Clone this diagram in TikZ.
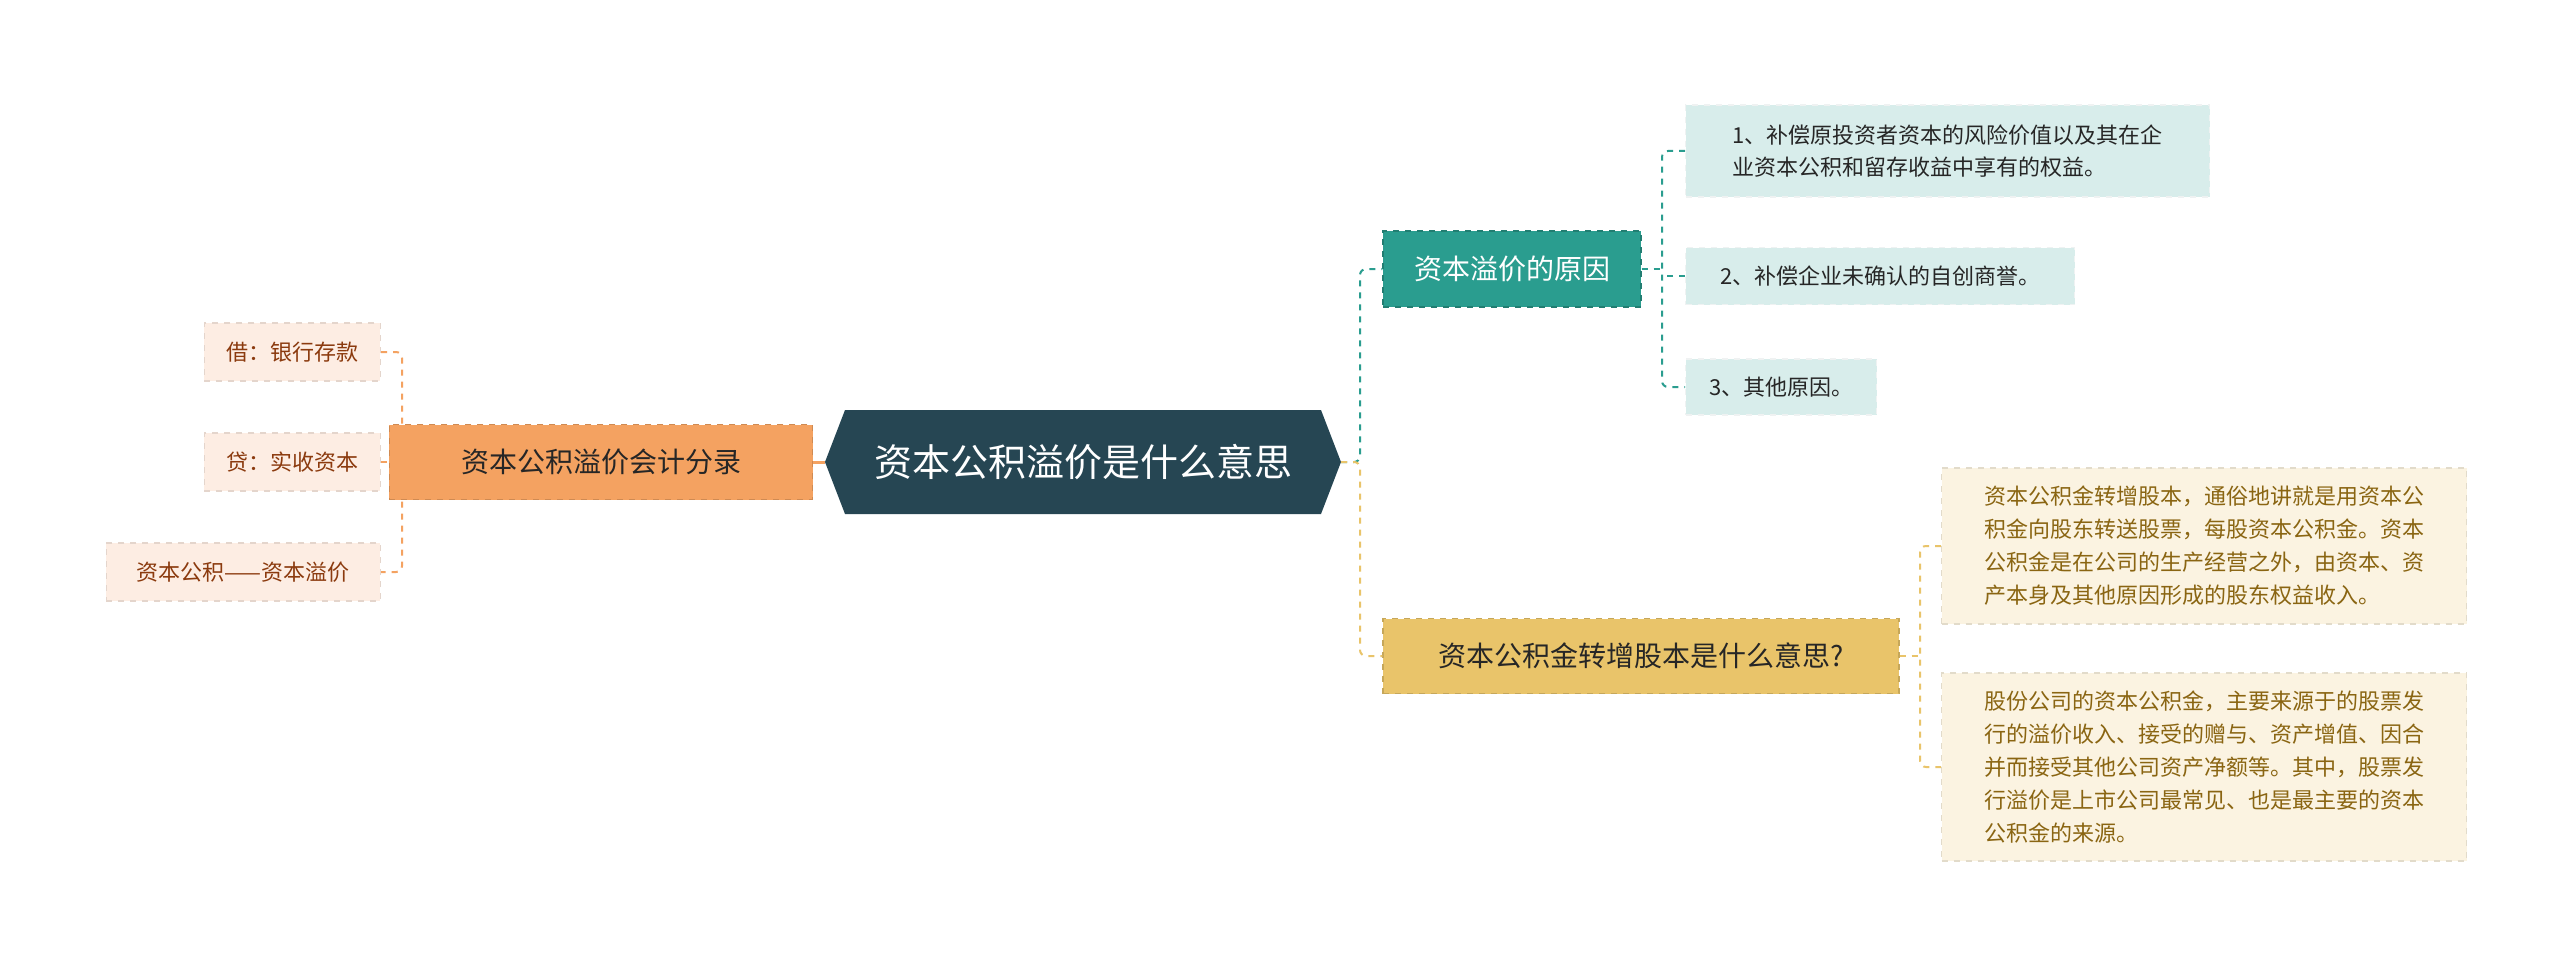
\documentclass[tikz,border=0pt]{standalone}
\usepackage{fontspec}
\setmainfont{Noto Sans CJK SC}
\usetikzlibrary{calc}
\definecolor{cdark}{HTML}{264653}
\definecolor{cteal}{HTML}{2A9D8F}
\definecolor{corange}{HTML}{F4A261}
\definecolor{cyellow}{HTML}{E9C46A}
\definecolor{lteal}{HTML}{D8EDEB}
\definecolor{lorange}{HTML}{FDEDE3}
\definecolor{lyellow}{HTML}{FBF3E1}
\definecolor{torange}{HTML}{8B3A0E}
\definecolor{tyellow}{HTML}{8A6512}
\begin{document}
\begin{tikzpicture}[x=0.5pt,y=-0.5pt,
  box/.style={inner sep=0pt,draw,dashed,line width=0.6pt},
  leafteal/.style={box,fill=lteal,draw=lteal!80!black!20!white,text=black!85,font=\fontsize{11}{16}\selectfont,align=left,anchor=west},
  leaforange/.style={box,fill=lorange,draw=lorange!90!black,text=torange,font=\fontsize{11}{16}\selectfont,anchor=east},
  leafyellow/.style={box,fill=lyellow,draw=lyellow!90!black,text=tyellow,font=\fontsize{11}{16.5}\selectfont,align=left,anchor=west},
  conn/.style={dashed,line width=1pt,rounded corners=3pt}]
\useasboundingbox (0,0) rectangle (2560,963);
\fill[white] (0,0) rectangle (2560,963);
% central
\fill[cdark] (825,462) -- (845,410) -- (1321,410) -- (1341,462) -- (1321,514) -- (845,514) -- cycle;
\node[text=white,font=\fontsize{19}{22}\selectfont] (c) at (1083,462) {资本公积溢价是什么意思};
\coordinate (cl) at (825,462);
\coordinate (cr) at (1341,462);
% left branch
\node[box,fill=corange,draw=corange!85!black,minimum width=353\pgflinewidth,text width=353*0.5pt,minimum height=37.5pt,align=center,font=\fontsize{14}{17}\selectfont,text=black!85] (o) at (601,462) {资本公积溢价会计分录};
\node[leaforange,minimum width=88pt,minimum height=29pt,align=center] (l1) at (381,352) {借：银行存款};
\node[leaforange,minimum width=88pt,minimum height=29pt,align=center] (l2) at (381,462) {贷：实收资本};
\node[leaforange,minimum width=137pt,minimum height=29pt,align=center] (l3) at (381,572) {资本公积——资本溢价};
\draw[corange,line width=1.5pt] (cl) -- (o.east);
\draw[conn,corange] (o.west) -- (402,462);
\draw[conn,corange] (l1.east) -| (402,462) |- (l3.east);
\draw[conn,corange] (l2.east) -- (402,462);
% teal branch
\node[box,fill=cteal,draw=cteal!80!black,minimum width=129pt,minimum height=38pt,text=white,font=\fontsize{14}{17}\selectfont] (t) at (1512,269) {资本溢价的原因};
\node[leafteal,minimum width=262pt,minimum height=46pt,inner xsep=7pt] (t1) at (1685,151) {1、补偿原投资者资本的风险价值以及其在企\\业资本公积和留存收益中享有的权益。};
\node[leafteal,minimum width=194.5pt,minimum height=28.5pt,inner xsep=7pt] (t2) at (1685,276) {2、补偿企业未确认的自创商誉。};
\node[leafteal,minimum width=95.5pt,minimum height=28pt,inner xsep=7pt] (t3) at (1685,387) {3、其他原因。};
\draw[conn,cteal] (cr) -- (1360,462) |- (t.west);
\draw[conn,cteal] (t.east) -- (1662,269);
\draw[conn,cteal] (t1.west) -| (1662,276) |- (t3.west);
\draw[conn,cteal] (t2.west) -- (1662,276);
% yellow branch
\node[box,fill=cyellow,draw=cyellow!85!black,minimum width=258pt,minimum height=37.5pt,text=black!85,font=\fontsize{14}{17}\selectfont] (y) at (1641,656) {资本公积金转增股本是什么意思?};
\node[leafyellow,minimum width=262.5pt,minimum height=78pt,inner xsep=7pt] (y1) at (1941,546) {资本公积金转增股本，通俗地讲就是用资本公\\积金向股东转送股票，每股资本公积金。资本\\公积金是在公司的生产经营之外，由资本、资\\产本身及其他原因形成的股东权益收入。};
\node[leafyellow,minimum width=262.5pt,minimum height=94pt,inner xsep=7pt] (y2) at (1941,767) {股份公司的资本公积金，主要来源于的股票发\\行的溢价收入、接受的赠与、资产增值、因合\\并而接受其他公司资产净额等。其中，股票发\\行溢价是上市公司最常见、也是最主要的资本\\公积金的来源。};
\draw[conn,cyellow] (cr) -- (1360,462) |- (y.west);
\draw[conn,cyellow] (y.east) -- (1920,656);
\draw[conn,cyellow] (y1.west) -| (1920,656) |- (y2.west);
\end{tikzpicture}
\end{document}
